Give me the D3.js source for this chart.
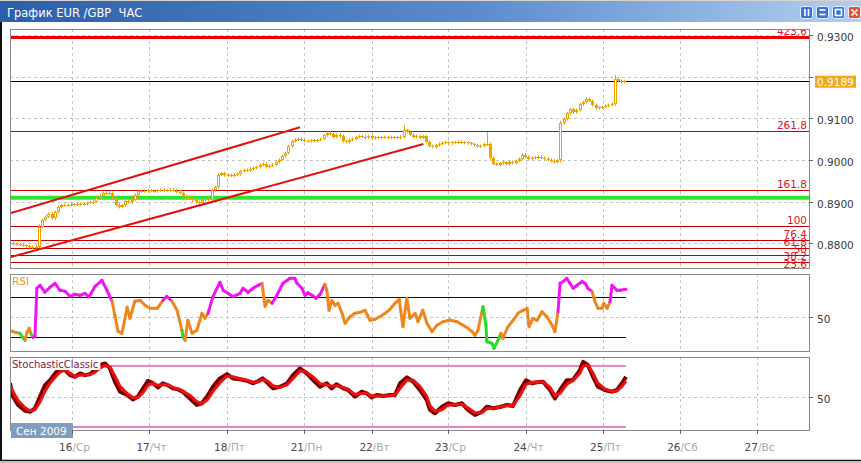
<!DOCTYPE html>
<html><head><meta charset="utf-8">
<script src="https://cdn.jsdelivr.net/npm/d3@7"></script>
<style>body{margin:0;background:#fff;overflow:hidden}svg{display:block;font-family:"DejaVu Sans",sans-serif}text{white-space:pre}</style>
</head><body><svg id="c" width="861" height="463"></svg>
<script>
// ---------------- DATA ----------------
const title = "График EUR /GBP  ЧАС";
const monthLabel = "Сен 2009";
const dayTicks = [19.4, 43.4, 67.8, 91.9, 113.1, 137, 161.25, 185.3, 209.4, 233.4]; // bar index of each day start
const dayNums  = ["16","17","18","21","22","23","24","25","26","27"];
const dayNames = ["Ср","Чт","Пт","Пн","Вт","Ср","Чт","Пт","Сб","Вс"];
const priceTicks = [0.88, 0.89, 0.90, 0.91, 0.92, 0.93];
const lastPrice = 0.9189;
// hourly closes, one per bar
const closes = [
0.8800,0.8798,0.8798,0.8797,0.8795,0.8793,0.8791,0.8789,0.8792,0.8840,
0.8856,0.8864,0.8871,0.8860,0.8875,0.8888,0.8891,0.8892,0.8893,0.8892,
0.8894,0.8893,0.8895,0.8894,0.8897,0.8898,0.8900,0.8908,0.8914,0.8921,
0.8919,0.8921,0.8908,0.8893,0.8887,0.8891,0.8901,0.8898,0.8905,0.8916,
0.8925,0.8926,0.8925,0.8927,0.8926,0.8925,0.8927,0.8928,0.8926,0.8927,
0.8929,0.8926,0.8924,0.8921,0.8913,0.8907,0.8909,0.8903,0.8899,0.8897,
0.8903,0.8907,0.8905,0.8928,0.8935,0.8965,0.8968,0.8963,0.8964,0.8962,
0.8965,0.8966,0.8973,0.8976,0.8975,0.8979,0.8981,0.8983,0.8988,0.8991,
0.8983,0.8986,0.8989,0.8995,0.9001,0.9009,0.9017,0.9033,0.9045,0.9049,
0.9051,0.9047,0.9046,0.9045,0.9047,0.9046,0.9048,0.9051,0.9059,0.9065,
0.9063,0.9055,0.9061,0.9058,0.9045,0.9043,0.9048,0.9051,0.9055,0.9057,
0.9056,0.9054,0.9057,0.9052,0.9054,0.9053,0.9055,0.9054,0.9053,0.9055,
0.9054,0.9053,0.9056,0.9071,0.9068,0.9061,0.9055,0.9057,0.9053,0.9057,
0.9043,0.9033,0.9031,0.9035,0.9039,0.9041,0.9042,0.9040,0.9042,0.9043,
0.9044,0.9041,0.9042,0.9040,0.9038,0.9035,0.9033,0.9034,0.9038,0.9039,
0.9005,0.8991,0.8989,0.8992,0.8994,0.8991,0.8995,0.8993,0.8998,0.9003,
0.9013,0.9008,0.9003,0.9005,0.9006,0.9008,0.9005,0.9003,0.9001,0.8998,
0.8995,0.8999,0.9088,0.9098,0.9112,0.9122,0.9114,0.9120,0.9134,0.9139,
0.9147,0.9142,0.9132,0.9124,0.9126,0.9127,0.9130,0.9132,0.9135,0.9194,
0.9190,0.9188,0.9189];
// visible long wicks [bar, high, low]
const wicks = [[8,0.8793,0.8786],[9,0.8842,0.8788],[123,0.9079,0.9055],[149,0.9063,0.9037],[172,0.9090,0.8997],[189,0.9200,0.9134]];
const fibLevels = [23.6, 38.2, 50, 61.8, 76.4, 100, 161.8, 261.8, 423.6];
const fibZero = 0.8702, fibHundred = 0.8842;
const supportLevel = 0.89095;
const channelUpper = [[0, 0.88720], [90.6, 0.90784]];
const channelLower = [[0, 0.87664], [129.2, 0.90384]];
// RSI [bar, value]
const rsi = [[0,37],[1.6,35],[3.1,34],[4,30],[4.7,27],[5.3,35],[6,39],[6.6,33],[7.2,30],[7.8,31],[8.4,79],[9.4,82],[10.9,75],[12.5,80],[14.1,84],[15.6,77],[17.2,76],[18.75,71],[20.3,73],[21.9,72],[23.4,74],[24.7,70.5],[26.6,81],[28.7,87],[30.3,77],[31.9,66],[32.8,51],[33.75,36],[35,34],[36.6,60],[37.5,49],[39,66],[40.6,67],[42.2,62],[43.75,59],[46,59],[47.8,67],[49,71],[50.6,66],[52.2,57],[53.75,37],[54,31],[54.7,27],[55.6,47],[56.9,34],[58.4,37],[60,54],[60.9,49],[61.9,54],[63.4,70.6],[65.6,85],[66.6,77],[68.1,74],[69.7,70.6],[71.9,74],[72.8,79],[74.4,75],[76,79],[77.5,82],[78.75,84],[79.7,61],[80.6,67],[81.9,64],[83.4,72],[85.3,84],[87.5,89],[89,89],[89.7,84],[91.25,79],[92.2,72],[93.1,74.6],[94.4,72],[95.6,69],[96.9,73],[98.4,83],[99,77],[99.7,57],[100.6,67],[101.6,62],[102.5,64],[103.75,54],[104.7,44],[106.25,50.6],[107.8,54],[109.4,55],[110.9,57],[112.5,47],[114,48],[115.6,50.6],[117.2,54],[118.75,58],[120.3,64],[121.6,68],[122.8,40.6],[124,69],[125,49],[126.6,54],[127.5,45.6],[129,57],[130.3,44],[131.9,35.6],[133.4,42],[135.3,45.6],[137.5,47.3],[139.7,45.6],[141.6,42],[143.1,39],[144.4,35.6],[145.3,32],[146.25,37],[147.8,60.6],[148.75,42],[149,25.6],[150.6,24],[151.25,19],[152.5,27],[153.4,34],[154,29],[155.6,40.6],[157.2,47],[158.75,54],[160.3,57],[161.6,59],[162.2,40.6],[163.4,49],[164.7,47],[166.25,55.6],[167.8,50.6],[169.4,42],[170.3,35.6],[171.25,55.6],[171.9,84],[172.8,85.6],[174,89],[175,84],[176,79],[177.2,82],[178.75,85.6],[179.7,84],[180.6,79],[181.9,75.6],[182.8,65.6],[183.75,59],[185,59],[185.6,64],[186.6,59],[187.5,65.6],[188.1,82],[189.7,77],[190.6,77],[192.5,78]];
const rsiLevels = [30, 70];
const rsiHot  = [[7.2,31.9],[47.8,50.6],[62.5,78.75],[81.9,98.4],[171.25,181.9],[187.5,192.5]];
const rsiCold = [[3.1,4.7],[6.6,7.2],[53.75,54.7],[147.8,153.4]];
// Stochastic [bar, value]
const stochK = [[0,63],[0.9,50],[2.5,41.7],[4.7,36],[6.25,35],[7.8,38.4],[9.4,50],[10.9,61],[12.5,66],[14.1,72.7],[15.6,77.6],[17.2,76],[18.75,71],[20.3,69.4],[21.9,72.7],[23.4,71],[25,72],[26.6,76],[28.1,81],[29.7,82.5],[31.25,77.6],[32.8,64.5],[34.4,54.7],[36.6,51.5],[38.4,47],[40,50],[41.6,58],[43.1,65.5],[44.7,63],[46.25,59],[47.8,63],[49.4,61],[50.9,58],[52.5,57],[54,54.7],[56.25,48],[58.4,41.7],[60,43.3],[61.6,50],[63.4,59.6],[65.6,67.8],[67.8,72],[69.7,67.8],[71.9,67],[74,65.5],[76,63],[77.5,65],[79,67.8],[80.6,63],[82.2,58],[84.4,59.6],[86.6,63],[88.4,71],[90.6,77.6],[92.7,72.7],[94.8,66],[96.9,59.6],[99,63],[100.5,58],[102,62],[104.2,58],[105.7,56.4],[107.8,49.8],[109.9,54.7],[111.5,53],[113,49],[114.6,51.5],[116.7,50.5],[118.75,51.5],[120.3,51.5],[121.9,63],[124,68.8],[126,64.5],[128.1,56.4],[130.2,46.6],[131.25,36.8],[132.8,33.5],[135,40],[136.9,43.3],[139,41.7],[141.25,43.3],[143.1,36.8],[145.3,31.9],[147.5,35],[149,40],[150.9,38.4],[153.1,39.7],[155.3,41.7],[157.2,40.7],[159.4,56.4],[161.25,66],[163.1,63],[164.7,64],[166.6,64.5],[168.75,56.4],[170.3,48],[171.9,56.4],[174,66],[175.9,66],[178.1,76],[179.1,84],[180.6,81],[182.2,69.4],[183.75,59.6],[185.9,56.4],[188.1,54.7],[189.7,56.4],[191.25,63],[192.5,69.4]];
const stochD = [[0,60],[2.5,46],[4.7,39],[6.25,36],[7.8,37],[9.4,45],[10.9,55],[12.5,63],[14.1,69],[15.6,74],[17.2,76],[18.75,73],[20.3,70],[21.9,71],[23.4,71.5],[25,71.5],[26.6,74],[28.1,78],[29.7,80.5],[31.25,79],[32.8,70],[34.4,60],[36.6,53],[38.4,49],[40,49],[41.6,54],[43.1,61],[44.7,63],[46.25,61],[47.8,61.5],[49.4,61.5],[50.9,59],[52.5,57.5],[54,55.5],[56.25,51],[58.4,45],[60,43],[61.6,46.5],[63.4,55],[65.6,63.5],[67.8,70],[69.7,69.5],[71.9,67.5],[74,66],[76,64],[77.5,64.5],[79,66.5],[80.6,65],[82.2,60.5],[84.4,59],[86.6,61.5],[88.4,67.5],[90.6,75],[92.7,74],[94.8,69],[96.9,62.5],[99,61.5],[100.5,60],[102,60.5],[104.2,59],[105.7,57],[107.8,52],[109.9,53],[111.5,53.5],[113,50.5],[114.6,50.5],[116.7,50.5],[118.75,51],[120.3,51.5],[121.9,58],[124,66],[126,66],[128.1,60],[130.2,50.5],[131.25,41],[132.8,35.5],[135,37],[136.9,41.5],[139,42],[141.25,42.5],[143.1,39],[145.3,34],[147.5,34],[149,38],[150.9,38.5],[153.1,39.5],[155.3,41],[157.2,41],[159.4,51],[161.25,62],[163.1,64],[164.7,64],[166.6,64.5],[168.75,59],[170.3,51],[171.9,53],[174,62],[175.9,65.5],[178.1,73],[179.1,80],[180.6,81],[182.2,73],[183.75,63],[185.9,57.5],[188.1,55],[189.7,55.5],[191.25,60],[192.5,65]];
const stochLevels = [20, 80];

// ---------------- LAYOUT ----------------
const W = 861, H = 463;
const L = 10, R = 809;
const P = {main:{t:29,b:268}, rsi:{t:274,b:351}, sto:{t:357,b:430}};
const svg = d3.select("#c");
const defs = svg.append("defs");

const x = d3.scaleLinear().domain([0, 250]).range([L, L + 800]);
const yP = d3.scaleLinear().domain([0.88, 0.93]).range([243.3, 35]);
const yR = d3.scaleLinear().domain([16.3, 93.3]).range([P.rsi.b, P.rsi.t]);
const yS = d3.scaleLinear().domain([20, 80]).range([427, 366]);

const grid = "#c4c4c4", axisTxt = "#3a3a3a";

// window chrome
const g0 = defs.append("linearGradient").attr("id","tb");
g0.append("stop").attr("offset","0%").attr("stop-color","#2c5fab");
g0.append("stop").attr("offset","55%").attr("stop-color","#5a8bcc");
g0.append("stop").attr("offset","100%").attr("stop-color","#b3cff0");
svg.append("rect").attr("width",W).attr("height",H).attr("fill","#fff");
svg.append("rect").attr("x",0).attr("y",0).attr("width",W).attr("height",22).attr("fill","url(#tb)");
svg.append("line").attr("x1",0).attr("x2",W).attr("y1",0.5).attr("y2",0.5).attr("stroke","#d8d4cc");
svg.append("text").attr("x",7).attr("y",16.5).attr("fill","#fff").attr("font-size",11.5).attr("xml:space","preserve").text(title);
const btns = [{x:800,c:"#3b74d6",g:"pause"},{x:816,c:"#3b74d6",g:"min"},{x:832,c:"#3b74d6",g:"max"},{x:848,c:"#e0552e",g:"close"}];
btns.forEach(b=>{
  svg.append("rect").attr("x",b.x+0.5).attr("y",6.5).attr("width",12).attr("height",12).attr("rx",2).attr("fill",b.c).attr("stroke","#e8f0ff");
  const gg = svg.append("g").attr("stroke","#fff").attr("stroke-width",1.6).attr("fill","none");
  if(b.g==="pause"){gg.append("line").attr("x1",b.x+5).attr("x2",b.x+5).attr("y1",9).attr("y2",16);gg.append("line").attr("x1",b.x+8.5).attr("x2",b.x+8.5).attr("y1",9).attr("y2",16);}
  if(b.g==="min"){gg.append("line").attr("x1",b.x+3.5).attr("x2",b.x+9.5).attr("y1",10).attr("y2",10);gg.append("line").attr("x1",b.x+3.5).attr("x2",b.x+9.5).attr("y1",14.5).attr("y2",14.5);}
  if(b.g==="max"){gg.append("rect").attr("x",b.x+3.5).attr("y",9.5).attr("width",6).attr("height",6);}
  if(b.g==="close"){gg.append("path").attr("d",`M${b.x+3.5},9.5L${b.x+9.5},15.5M${b.x+9.5},9.5L${b.x+3.5},15.5`);}
});
svg.append("line").attr("x1",1).attr("x2",1).attr("y1",22).attr("y2",461).attr("stroke","#111").attr("stroke-width",2);
svg.append("line").attr("x1",0).attr("x2",W).attr("y1",460.5).attr("y2",460.5).attr("stroke","#111").attr("stroke-width",1.5);
svg.append("line").attr("x1",0).attr("x2",W).attr("y1",462.5).attr("y2",462.5).attr("stroke","#bbb");

// clip paths
Object.entries(P).forEach(([k,p])=>{
  defs.append("clipPath").attr("id","cl-"+k).append("rect").attr("x",L).attr("y",p.t).attr("width",R-L).attr("height",p.b-p.t);
});

function vGrid(p){
  svg.append("g").selectAll("line").data(dayTicks).join("line")
    .attr("x1",d=>Math.round(x(d))+0.5).attr("x2",d=>Math.round(x(d))+0.5)
    .attr("y1",p.t).attr("y2",p.b).attr("stroke",grid).attr("stroke-dasharray","3,3");
}
function hGrid(vals, scale, p){
  svg.append("g").selectAll("line").data(vals).join("line")
    .attr("x1",L).attr("x2",R).attr("y1",d=>Math.round(scale(d))+0.5).attr("y2",d=>Math.round(scale(d))+0.5)
    .attr("stroke",grid).attr("stroke-dasharray","3,3");
}
function rightTicks(vals, scale, fmt, skip){
  const g = svg.append("g");
  vals.forEach(v=>{
    const yy = Math.round(scale(v))+0.5;
    g.append("line").attr("x1",R).attr("x2",R+4).attr("y1",yy).attr("y2",yy).attr("stroke","#666");
    if(!skip || !skip(v)) g.append("text").attr("x",R+8).attr("y",yy+5.5).attr("font-size",10.5).attr("fill",axisTxt).text(fmt(v));
  });
}

// ---------------- MAIN PANEL ----------------
vGrid(P.main);
hGrid(priceTicks, yP, P.main);
const mg = svg.append("g").attr("clip-path","url(#cl-main)");
// fibonacci
const fibPrice = l => fibZero + (fibHundred - fibZero) * l / 100;
fibLevels.forEach(l=>{
  const yy = Math.round(yP(fibPrice(l)))+0.5;
  const thick = l === d3.max(fibLevels);
  mg.append("line").attr("x1",L).attr("x2",R).attr("y1",yy).attr("y2",yy)
    .attr("stroke",thick?"#e80000":"#c80000").attr("stroke-width",thick?3:1);
  mg.append("text").attr("x",R-2).attr("y",yy-2.5).attr("text-anchor","end").attr("font-size",10.5).attr("fill","#e0102a").text(String(l));
});
// support
mg.append("line").attr("x1",L).attr("x2",R).attr("y1",yP(supportLevel)).attr("y2",yP(supportLevel)).attr("stroke","#2ee52e").attr("stroke-width",4);
// last price line
mg.append("line").attr("x1",L).attr("x2",R).attr("y1",Math.round(yP(lastPrice))+0.5).attr("y2",Math.round(yP(lastPrice))+0.5).attr("stroke","#000");
// candles
const cOrange = "#f2a200";
const wickMap = new Map(wicks.map(w=>[w[0],w]));
closes.forEach((c,i)=>{
  const o = i>0 ? closes[i-1] : c;
  const cx = Math.round(x(i));
  const hi = wickMap.has(i) ? wickMap.get(i)[1] : Math.max(o,c);
  const lo = wickMap.has(i) ? wickMap.get(i)[2] : Math.min(o,c);
  mg.append("line").attr("x1",cx+0.5).attr("x2",cx+0.5).attr("y1",yP(hi)-1.5).attr("y2",yP(lo)+1.5).attr("stroke",cOrange);
  const top = Math.round(yP(Math.max(o,c))), bot = Math.round(yP(Math.min(o,c)));
  const h = Math.max(1, bot-top);
  if(c >= o && h > 2){
    mg.append("rect").attr("x",cx-0.5).attr("y",top+0.5).attr("width",2).attr("height",h-1).attr("fill","#fff").attr("stroke",cOrange);
  } else {
    mg.append("rect").attr("x",cx-1).attr("y",top).attr("width",3).attr("height",h).attr("fill",cOrange);
  }
});
// channel
const lineP = d3.line().x(d=>x(d[0])).y(d=>yP(d[1]));
[channelUpper, channelLower].forEach(ch=>{
  mg.append("path").attr("d",lineP(ch)).attr("stroke","#e01010").attr("stroke-width",2).attr("fill","none");
});
svg.append("rect").attr("x",L+0.5).attr("y",P.main.t+0.5).attr("width",R-L).attr("height",P.main.b-P.main.t).attr("fill","none").attr("stroke","#8a8a8a");
rightTicks(priceTicks, yP, d3.format(".4f"), v=>Math.abs(yP(v)-yP(lastPrice))<12);
// last price badge
const ly = yP(lastPrice);
svg.append("rect").attr("x",815).attr("y",ly-5.5).attr("width",41).attr("height",12).attr("fill","#f3a71c");
svg.append("text").attr("x",817).attr("y",ly+4.5).attr("font-size",10.5).attr("fill","#fff").text(d3.format(".4f")(lastPrice));

// ---------------- RSI PANEL ----------------
vGrid(P.rsi);
hGrid([50], yR, P.rsi);
const rg = svg.append("g").attr("clip-path","url(#cl-rsi)");
const lastBar = d3.max(rsi, d=>d[0]);
rsiLevels.forEach(v=>{
  rg.append("line").attr("x1",L).attr("x2",x(lastBar)).attr("y1",Math.round(yR(v))+0.5).attr("y2",Math.round(yR(v))+0.5).attr("stroke","#000080");
});
const inR = (m, rs) => rs.some(r=>m>=r[0] && m<=r[1]);
const lineR = d3.line().x(d=>x(d[0])).y(d=>yR(d[1]));
for(let k=0;k<rsi.length-1;k++){
  const m = (rsi[k][0]+rsi[k+1][0])/2;
  const col = inR(m, rsiHot) ? "#f014f0" : inR(m, rsiCold) ? "#22e022" : "#f0861e";
  rg.append("path").attr("d",lineR([rsi[k],rsi[k+1]])).attr("stroke",col).attr("stroke-width",3).attr("stroke-linecap","round").attr("fill","none");
}
rg.append("text").attr("x",12).attr("y",285).attr("font-size",10.5).attr("fill","#f0903c").text("RSI");
svg.append("rect").attr("x",L+0.5).attr("y",P.rsi.t+0.5).attr("width",R-L).attr("height",P.rsi.b-P.rsi.t).attr("fill","none").attr("stroke","#8a8a8a");
rightTicks([50], yR, d=>String(d));

// ---------------- STOCHASTIC PANEL ----------------
vGrid(P.sto);
hGrid([50], yS, P.sto);
const sg = svg.append("g").attr("clip-path","url(#cl-sto)");
stochLevels.forEach(v=>{
  sg.append("line").attr("x1",L).attr("x2",x(lastBar)).attr("y1",yS(v)).attr("y2",yS(v)).attr("stroke","#e485c4").attr("stroke-width",2);
});
const lineS = d3.line().x(d=>x(d[0])).y(d=>yS(d[1]));
sg.append("path").attr("d",lineS(stochK)).attr("stroke","#7a0000").attr("stroke-width",4).attr("fill","none").attr("stroke-linejoin","round");
sg.append("path").attr("d",lineS(stochD)).attr("stroke","#ee1010").attr("stroke-width",3).attr("fill","none").attr("stroke-linejoin","round");
const stLbl = svg.append("text").attr("x",12).attr("y",368).attr("font-size",10).attr("fill","#7a1c3c").text("StochasticClassic");
const bb = stLbl.node().getBBox();
svg.insert("rect", () => stLbl.node()).attr("x",bb.x-1).attr("y",bb.y+1).attr("width",bb.width+3).attr("height",bb.height-1).attr("fill","#fff");
svg.append("rect").attr("x",L+0.5).attr("y",P.sto.t+0.5).attr("width",R-L).attr("height",P.sto.b-P.sto.t).attr("fill","none").attr("stroke","#8a8a8a");
rightTicks([50], yS, d=>String(d));

// month badge
svg.append("rect").attr("x",11).attr("y",423).attr("width",62).attr("height",15).attr("fill","#7f9dbd");
svg.append("text").attr("x",16).attr("y",435).attr("font-size",10.5).attr("fill","#fff").text(monthLabel);

// bottom axis
const bx = svg.append("g");
dayTicks.forEach((d,i)=>{
  const xx = Math.round(x(d))+0.5;
  bx.append("line").attr("x1",xx).attr("x2",xx).attr("y1",P.sto.b).attr("y2",P.sto.b+4).attr("stroke","#666");
  const t = bx.append("text").attr("x",xx+2).attr("y",451).attr("font-size",10.5).attr("text-anchor","middle");
  t.append("tspan").attr("fill","#4a4a4a").text(dayNums[i]);
  t.append("tspan").attr("fill","#a8a8a8").text("/"+dayNames[i]);
});
</script></body></html>
